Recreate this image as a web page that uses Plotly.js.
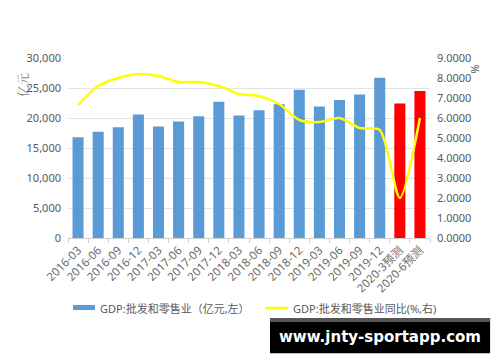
<!DOCTYPE html>
<html>
<head>
<meta charset="utf-8">
<script src="https://cdn.plot.ly/plotly-3.0.1.min.js"></script>
<style>html,body{margin:0;padding:0;background:#fff;}#chart{width:500px;height:362px;}</style>
</head>
<body>
<div id="chart"></div>
<script>
const categories = ["2016-03","2016-06","2016-09","2016-12","2017-03","2017-06","2017-09","2017-12","2018-03","2018-06","2018-09","2018-12","2019-03","2019-06","2019-09","2019-12","2020-3预测","2020-6预测"];
const gdpValues = [16800,17700,18450,20600,18600,19400,20300,22700,20400,21300,22300,24700,21900,23000,23900,26700,22400,24500];
const yoyValues = [6.65,7.6,8.0,8.2,8.1,7.8,7.8,7.6,7.2,7.1,6.7,5.9,5.8,6.0,5.5,5.4,2.0,6.0];
const barColors = categories.map(c => c.indexOf("预测") >= 0 ? "#ff0000" : "#5b9bd5");
const legendBar = "GDP:批发和零售业（亿元,左）";
const legendLine = "GDP:批发和零售业同比(%,右)";

const font = "Noto Sans, Noto Sans CJK SC, sans-serif";
const gray = "#595959";

const traces = [
  {type:"bar", x:categories, y:gdpValues, marker:{color:barColors}, name:legendBar, yaxis:"y", showlegend:false},
  {type:"scatter", mode:"lines", x:categories, y:yoyValues, line:{color:"#ffff00", width:2.5, shape:"spline", smoothing:0.7}, name:legendLine, yaxis:"y2", showlegend:false}
];

const layout = {
  width:500, height:362,
  margin:{l:68, r:70, t:58, b:124},
  paper_bgcolor:"#fff", plot_bgcolor:"#fff",
  bargap:0.45,
  font:{family:font, color:gray, size:11},
  xaxis:{type:"category", tickangle:-45, tickfont:{size:11.5, color:"#6a6a6a"}, showline:true, linecolor:"#d0d0d0", linewidth:1, ticks:"outside", tickson:"boundaries", ticklen:4, tickcolor:"#d0d0d0", showgrid:false, fixedrange:true},
  yaxis:{range:[0,30000], dtick:5000, tickformat:",", gridcolor:"#e3e3e3", zeroline:false, showline:false, tickfont:{size:11, color:gray}, ticks:"", ticklabelstandoff:6},
  yaxis2:{overlaying:"y", side:"right", range:[0,9], dtick:1, tickformat:".4f", showgrid:false, zeroline:false, showline:false, tickfont:{size:11, color:gray}, ticklabelstandoff:6},
  shapes:[
    {type:"rect", xref:"paper", yref:"paper", x0:0.0138, x1:0.0746, y0:-0.372, y1:-0.4, fillcolor:"#5b9bd5", line:{width:0}},
    {type:"line", xref:"paper", yref:"paper", x0:0.544, x1:0.608, y0:-0.389, y1:-0.389, line:{color:"#ffff00", width:2.5}},
    {type:"rect", xref:"paper", yref:"paper", x0:0.558, x1:1.166, y0:-0.444, y1:-0.64, fillcolor:"#000000", line:{width:0}},
    {type:"rect", xref:"paper", yref:"paper", x0:0.558, x1:1.166, y0:-0.444, y1:-0.467, fillcolor:"#555555", line:{width:0}}
  ],
  annotations:[
    {xref:"paper", yref:"paper", x:-0.155, y:0.93, text:"亿元", textangle:-90, showarrow:false, font:{size:12, color:"#7f7f7f", family:"Noto Serif CJK SC, Noto Sans CJK SC"}},
    {xref:"paper", yref:"paper", x:1.152, y:0.975, text:"%", textangle:90, showarrow:false, font:{size:11, color:gray}},
    {xref:"paper", yref:"paper", x:0.082, y:-0.389, xanchor:"left", yanchor:"middle", text:legendBar, showarrow:false, font:{size:11, color:gray}},
    {xref:"paper", yref:"paper", x:0.616, y:-0.389, xanchor:"left", yanchor:"middle", text:legendLine, showarrow:false, font:{size:11, color:gray}},
    {xref:"paper", yref:"paper", x:0.862, y:-0.55, xanchor:"center", yanchor:"middle", text:"<b>www.jnty-sportapp.com</b>", showarrow:false, font:{size:15, color:"#ffffff", family:"DejaVu Sans, sans-serif"}}
  ]
};

Plotly.newPlot("chart", traces, layout, {displayModeBar:false, staticPlot:true});
</script>
</body>
</html>
